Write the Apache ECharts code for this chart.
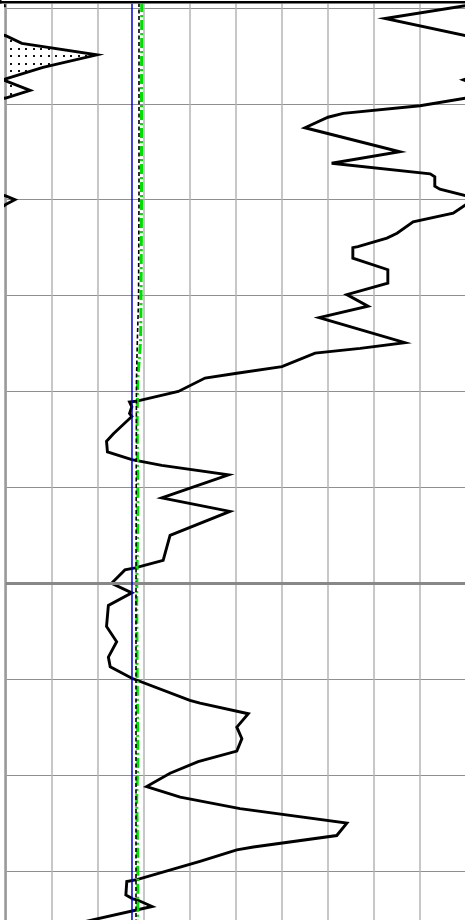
<!DOCTYPE html>
<html><head><meta charset="utf-8">
<script src="https://cdn.jsdelivr.net/npm/echarts@6/dist/echarts.min.js"></script>
<style>html,body{margin:0;padding:0;background:#fff}#c{width:465px;height:920px}</style>
</head><body><div id="c"></div>
<script>
// ---- data (log track: value on scale 0-100, wrapped backup scale 100-200; depth) ----
const curveValues = [100.0, 82.4, 100.0, 103.5, 119.8, 108.1, 100.0, 99.4, 100.0, 105.3, 100.0,
  90.0, 73.3, 70.0, 65.0, 85.6, 70.8, 92.2, 93.2, 93.2, 94.3, 100.0, 102.0, 100.0,
  97.2, 88.5, 85.0, 82.8, 76.5, 75.4, 75.4, 83.0, 83.0, 74.1, 78.7, 68.1, 86.7,
  77.0, 67.2, 60.0, 50.2, 43.3, 37.5, 28.5, 26.9, 27.4, 26.9, 27.4, 23.4, 21.9,
  22.1, 27.4, 33.9, 48.4, 33.9, 48.7, 35.7, 34.2, 28.1, 25.9, 23.0, 27.4, 22.3,
  21.9, 24.1, 22.3, 22.7, 27.4, 40.0, 42.2, 52.7, 50.2, 51.3, 50.2, 41.8, 35.7,
  30.6, 37.9, 50.9, 74.1, 71.9, 53.8, 50.2, 42.2, 28.5, 26.3, 26.1, 27.6, 28.5,
  31.8, 16.1];
const curveDepths = [1539.75, 1541.1, 1542.9, 1543.7, 1544.9, 1546.2, 1547.4, 1547.5, 1547.6, 1548.6, 1549.4,
  1550.2, 1551.0, 1551.4, 1552.5, 1555.0, 1556.2, 1557.3, 1557.6, 1558.6, 1558.9, 1559.6, 1560.0, 1560.5,
  1561.4, 1562.3, 1563.5, 1564.0, 1564.9, 1565.0, 1566.1, 1567.3, 1568.7, 1569.9, 1571.1, 1572.3, 1574.9,
  1575.5, 1576.0, 1577.4, 1578.1, 1578.6, 1580.0, 1581.0, 1581.1, 1581.6, 1582.3, 1582.6, 1584.4, 1585.2,
  1586.3, 1587.1, 1587.7, 1588.7, 1591.1, 1592.5, 1595.0, 1597.6, 1598.4, 1598.6, 1600.0, 1601.0, 1602.3,
  1604.5, 1606.1, 1607.7, 1608.7, 1609.9, 1612.2, 1612.5, 1613.6, 1615.0, 1616.2, 1617.5, 1618.6, 1619.8,
  1621.2, 1622.3, 1623.5, 1625.0, 1626.3, 1627.5, 1627.8, 1629.0, 1630.9, 1631.1, 1632.5, 1632.9, 1633.0,
  1633.7, 1635.4];

const greenValues = [29.6, 29.5, 29.5, 29.4, 29.3, 29.0, 28.65, 28.55, 28.7, 28.45, 28.6, 28.7, 28.45, 28.65, 28.7, 28.55];
const greenDepths = [1530, 1549.6, 1560.0, 1570.5, 1574.6, 1576.7, 1578.8, 1583.0, 1591.3, 1601.7, 1612.2, 1618.4, 1622.6, 1627.8, 1633.0, 1640];

const dashValues = [28.95, 28.95, 28.85, 28.6, 28.4, 28.3, 28.3];
const dashDepths = [1530, 1560.0, 1570.5, 1574.6, 1578.8, 1601.7, 1640];

const blueValues = [27.43, 27.43];
const blueDepths = [1530, 1640];

const majorDepths = [1600];

const depthMin = 1530, depthMax = 1640, depthStep = 10;
const scaleMin = 0, scaleMax = 100, scaleStep = 10;

// ---- build ----
const zip = (a, b) => a.map((v, i) => [v, b[i]]);
const curve = zip(curveValues, curveDepths);

const runs = [];
let cur = [];
curve.forEach(p => {
  if (p[0] >= 100) cur.push(p);
  else { if (cur.length >= 3) runs.push(cur); cur = []; }
});
if (cur.length >= 3) runs.push(cur);

const pc = document.createElement('canvas');
pc.width = 15; pc.height = 15;
const ctx = pc.getContext('2d');
ctx.fillStyle = '#111';
[[3, 3], [10, 3], [3, 10], [10, 10]].forEach(([x, y]) => ctx.fillRect(x, y, 2, 2));

const chart = echarts.init(document.getElementById('c'), null, {renderer: 'canvas'});
const pxPerUnit = 9.59;
const y1600 = 583.3;
const gridTop = y1600 - (1600 - depthMin) * pxPerUnit;
const gridH = (depthMax - depthMin) * pxPerUnit;

chart.setOption({
  animation: false,
  backgroundColor: '#fff',
  grid: {left: 5.7, top: gridTop, width: 460.4, height: gridH, show: false,
         containLabel: false, outerBoundsMode: 'none'},
  xAxis: [
    {type: 'value', min: scaleMin, max: scaleMax, interval: scaleStep, position: 'top',
     axisLine: {show: false}, axisTick: {show: false}, axisLabel: {show: false},
     splitLine: {show: true, lineStyle: {color: '#b4b4b4', width: 1.5}}},
    {type: 'value', min: 100, max: 200, interval: 10, show: false}
  ],
  yAxis: {type: 'value', inverse: true, min: depthMin, max: depthMax, interval: depthStep,
    axisLine: {show: true, onZero: false, lineStyle: {color: '#9a9a9a', width: 2.5}},
    axisTick: {show: false}, axisLabel: {show: false},
    splitLine: {show: true, lineStyle: {color: '#8f8f8f', width: 1}}},
  series: [
    {type: 'custom', xAxisIndex: 1, yAxisIndex: 0, z: -1, silent: true,
     data: [[150, 1580]],
     renderItem: (params, api) => ({
       type: 'group',
       children: runs.map(run => ({
         type: 'polygon',
         shape: {points: run.map(p => api.coord(p))},
         style: {fill: {image: pc, repeat: 'repeat'}, stroke: null}
       }))
     })},
    {type: 'line', xAxisIndex: 0, z: 1, symbol: 'none', silent: true,
     data: [[0, majorDepths[0]], [0, majorDepths[0]]], lineStyle: {opacity: 0},
     markLine: {symbol: 'none', silent: true, label: {show: false},
       lineStyle: {color: '#888', width: 3, type: 'solid'},
       data: majorDepths.map(d => ({yAxis: d}))}},
    {type: 'line', xAxisIndex: 0, z: 2, symbol: 'none', silent: true, data: curve,
     lineStyle: {color: '#000', width: 2.9, join: 'miter', miterLimit: 6}},
    {type: 'line', xAxisIndex: 1, z: 2, symbol: 'none', silent: true, data: curve,
     lineStyle: {color: '#000', width: 2.9, join: 'miter', miterLimit: 6}},
    {type: 'line', xAxisIndex: 0, z: 3, symbol: 'none', silent: true, data: zip(greenValues, greenDepths),
     lineStyle: {color: '#00dd00', width: 3, type: [10, 3, 2, 3]}},
    {type: 'line', xAxisIndex: 0, z: 4, symbol: 'none', silent: true, data: zip(dashValues, dashDepths),
     lineStyle: {color: '#000', width: 1.6, type: [4, 2.5]}},
    {type: 'line', xAxisIndex: 0, z: 5, symbol: 'none', silent: true, data: zip(blueValues, blueDepths),
     lineStyle: {color: '#0000cc', width: 1.5}}
  ],
  graphic: [
    {type: 'rect', z: 100, shape: {x: 0, y: 0, width: 465, height: 3.8}, style: {fill: '#fff'}},
    {type: 'rect', z: 101, shape: {x: 0, y: 1, width: 465, height: 2.4}, style: {fill: '#000'}},
    {type: 'rect', z: 101, shape: {x: 0, y: 0, width: 1.5, height: 3.4}, style: {fill: '#000'}}
  ]
});
</script>
</body></html>
